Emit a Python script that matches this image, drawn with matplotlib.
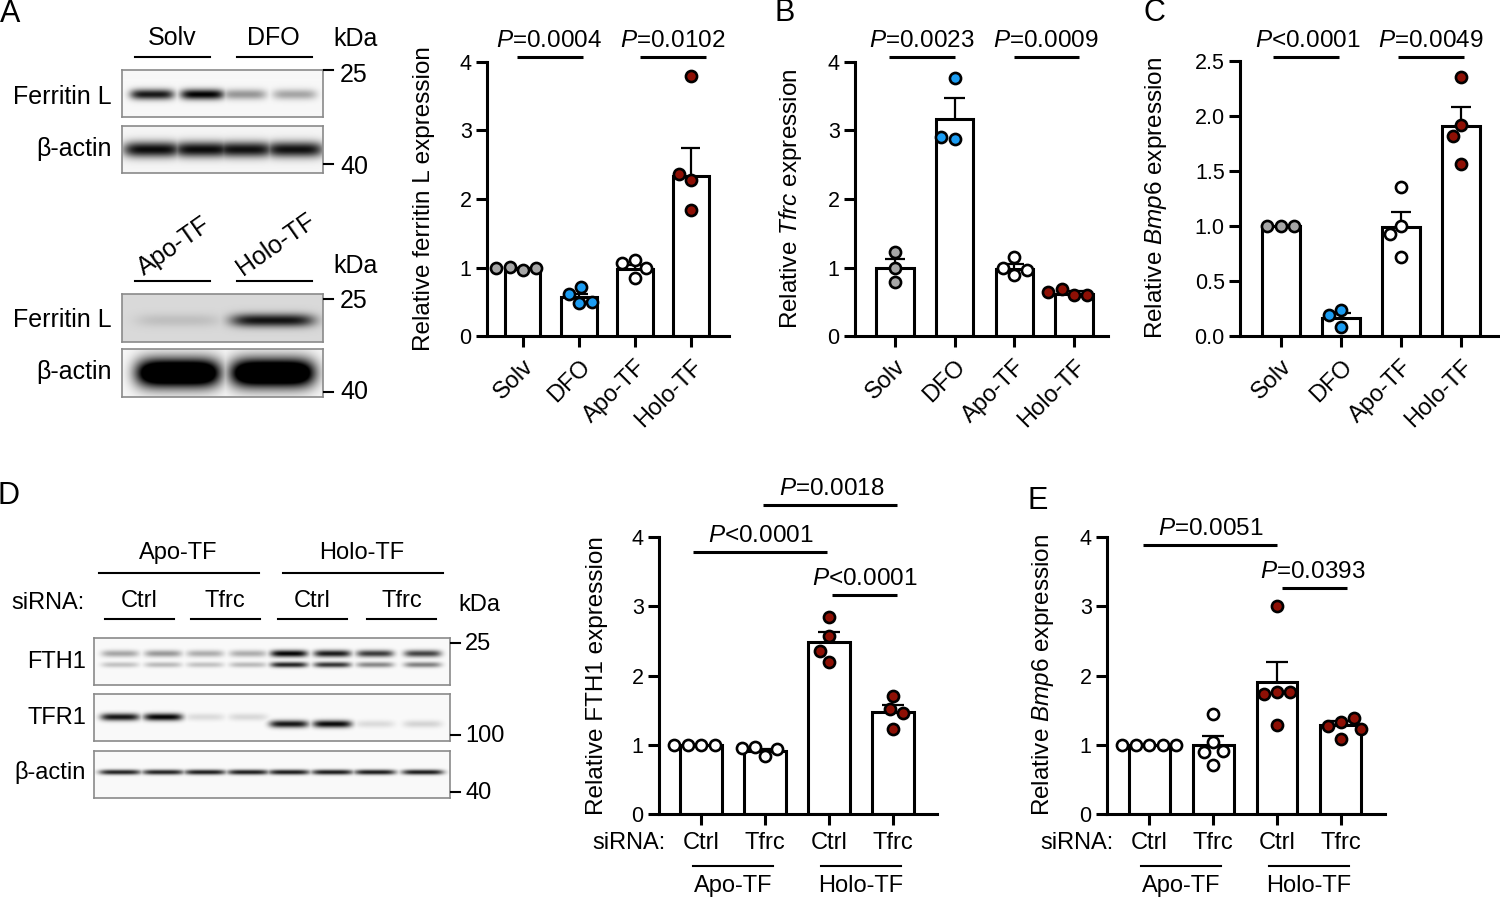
import numpy as np
import matplotlib
matplotlib.use("Agg")
import matplotlib.pyplot as plt
from matplotlib.transforms import offset_copy

plt.rcParams['font.family'] = ['Liberation Sans', 'DejaVu Sans']
plt.rcParams['mathtext.fontset'] = 'custom'
plt.rcParams['mathtext.it'] = 'Liberation Sans:italic'
plt.rcParams['mathtext.rm'] = 'Liberation Sans'

W, H = 1500, 901
fig = plt.figure(figsize=(W / 100, H / 100), dpi=100)

GRAY, BLUE, RED, WHITE = '#A6A6A6', '#1B9CF2', '#8E1005', '#FFFFFF'

# ---------------- data ----------------
cats_top = ['Solv', 'DFO', 'Apo-TF', 'Holo-TF']
top_colors = [GRAY, BLUE, WHITE, RED]

ferritin_mean = [0.98, 0.57, 0.98, 2.34]
ferritin_sem = [0.02, 0.05, 0.05, 0.41]
ferritin_pts = [[0.97, 1.01, 0.99, 0.99], [0.48, 0.62, 0.71, 0.50],
                [1.11, 0.84, 1.06, 1.00], [2.28, 3.79, 1.84, 2.37]]
# (line start, line end, line height, text centre, text)
ferritin_p = [(-0.11, 1.07, 4.07, 0.46, '$P$=0.0004'),
              (2.09, 3.27, 4.07, 2.68, '$P$=0.0102')]

tfrc_mean = [0.99, 3.17, 0.98, 0.62]
tfrc_sem = [0.13, 0.30, 0.07, 0.04]
tfrc_pts = [[1.22, 1.00, 0.79], [3.77, 2.88, 2.91],
            [0.89, 1.00, 1.16, 0.96], [0.60, 0.68, 0.60, 0.64]]
tfrc_p = [(-0.10, 1.00, 4.07, 0.44, '$P$=0.0023'),
          (2.00, 3.08, 4.07, 2.53, '$P$=0.0009')]

bmp6_top_mean = [1.00, 0.16, 0.99, 1.91]
bmp6_top_sem = [0.00, 0.05, 0.14, 0.17]
bmp6_top_pts = [[1.00, 1.00, 1.00], [0.24, 0.08, 0.19],
                [1.35, 1.00, 0.93, 0.72], [2.35, 1.92, 1.82, 1.56]]
bmp6_top_p = [(-0.13, 0.97, 2.54, 0.44, '$P$<0.0001'),
              (1.95, 3.05, 2.54, 2.50, '$P$=0.0049')]

sirna_labels = ['Ctrl', 'Tfrc', 'Ctrl', 'Tfrc']
treat_groups = ['Apo-TF', 'Holo-TF']
bottom_colors = [WHITE, WHITE, RED, RED]

fth1_mean = [1.00, 0.91, 2.48, 1.47]
fth1_sem = [0.00, 0.03, 0.15, 0.10]
fth1_pts = [[1.00, 1.00, 1.00, 1.00], [0.84, 0.97, 0.94, 0.95],
            [2.84, 2.57, 2.20, 2.35], [1.71, 1.52, 1.46, 1.23]]
fth1_p = [(-0.125, 1.97, 3.78, 0.93, '$P$<0.0001'),
          (0.97, 3.06, 4.46, 2.04, '$P$=0.0018'),
          (2.05, 3.06, 3.16, 2.56, '$P$<0.0001')]

bmp6_bot_mean = [1.00, 1.00, 1.91, 1.29]
bmp6_bot_sem = [0.00, 0.12, 0.29, 0.05]
bmp6_bot_pts = [[1.00, 1.00, 1.00, 1.00, 1.00], [1.45, 1.04, 0.89, 0.91, 0.71],
                [3.00, 1.76, 1.73, 1.76, 1.28], [1.33, 1.27, 1.39, 1.08, 1.23]]
bmp6_bot_p = [(-0.09, 2.00, 3.88, 0.97, '$P$=0.0051'),
              (2.08, 3.09, 3.26, 2.56, '$P$=0.0393')]

# blot band intensities (0 = none, 1 = black)
blotA_ferritin = [0.88, 0.97, 0.38, 0.32]
blotA_actin = [0.92, 0.92, 0.90, 0.90]
blotA2_ferritin = [0.10, 0.78]
blotA2_actin = [1.0, 1.0]
blotD_fth1_upper = [0.33, 0.38, 0.30, 0.30, 0.97, 0.88, 0.75, 0.72]
blotD_fth1_lower = [0.22, 0.25, 0.22, 0.25, 0.85, 0.78, 0.45, 0.48]
blotD_tfr1 = [0.90, 0.97, 0.12, 0.13, 0.90, 0.95, 0.12, 0.15]
blotD_actin = [0.85, 0.85, 0.87, 0.87, 0.88, 0.88, 0.88, 0.88]


# ---------------- helpers ----------------
def fig_text(x, y, s, **kw):
    return fig.text(x / W, 1 - y / H, s, **kw)


def fig_line(x0, x1, y, lw=1.5, color='black'):
    fig.add_artist(plt.Line2D([x0 / W, x1 / W], [1 - y / H, 1 - y / H],
                              color=color, lw=lw, transform=fig.transFigure))


def px_axes(left, right, top, bottom):
    return fig.add_axes([left / W, 1 - bottom / H, (right - left) / W,
                         (bottom - top) / H])


def swarm(vals, ax, diam):
    p0 = ax.transData.transform((0, 0))
    p1 = ax.transData.transform((1, 1))
    sx, sy = p1 - p0
    placed, offs = [], []
    for v in vals:
        y = v * sy
        cands = [0.0]
        for xo, yo in placed:
            dy = y - yo
            if abs(dy) < diam:
                dx = np.sqrt(diam ** 2 - dy ** 2)
                cands += [xo - dx, xo + dx]
        cands.sort(key=lambda c: round(abs(c), 6))
        chosen = cands[-1]
        for c in cands:
            if all((c - xo) ** 2 + (y - yo) ** 2 >= diam ** 2 - 1e-6
                   for xo, yo in placed):
                chosen = c
                break
        placed.append((chosen, y))
        offs.append(chosen / sx)
    return offs


def bar_panel(ax, means, sems, pts, colors, xlim, ylim, yticks, yticklabels,
              barw, pvals):
    x = np.arange(len(means))
    ax.set_xlim(*xlim)
    ax.set_ylim(*ylim)
    ax.bar(x, means, width=barw, color='white', edgecolor='black',
           linewidth=2.2, zorder=2)
    capw = barw * 0.27
    for xi, m, s in zip(x, means, sems):
        if s > 0:
            ax.plot([xi, xi], [m, m + s], color='black', lw=1.6, zorder=3,
                    solid_capstyle='butt')
            ax.plot([xi - capw, xi + capw], [m + s, m + s], color='black',
                    lw=1.6, zorder=3, solid_capstyle='butt')
    for xi, vals, c in zip(x, pts, colors):
        offs = swarm(vals, ax, 13.5)
        ax.scatter(xi + np.array(offs), vals, s=8.0 ** 2, facecolor=c,
                   edgecolor='black', linewidth=1.9, zorder=4, clip_on=False)
    for sp in ['top', 'right']:
        ax.spines[sp].set_visible(False)
    for sp in ['left', 'bottom']:
        ax.spines[sp].set_linewidth(2.2)
    ax.tick_params(axis='both', length=8, width=2.2, direction='out')
    ax.set_yticks(yticks)
    ax.set_yticklabels(yticklabels, fontsize=15.5)
    ax.tick_params(axis='y', pad=3)
    ax.set_xticks(x)
    ax.patch.set_alpha(0)
    toff = offset_copy(ax.transData, fig=fig, x=0, y=10, units='dots')
    for x0, x1, yv, xt, s in pvals:
        ax.plot([x0, x1], [yv, yv], color='black', lw=2.2,
                clip_on=False, solid_capstyle='butt')
        ax.text(xt, yv, s, transform=toff, ha='center',
                va='baseline', fontsize=17.5, clip_on=False)


def blot(left, right, top, bottom, bands, bg=0.0, edge='#8a8a8a'):
    ax = px_axes(left, right, top, bottom)
    w, h = int(right - left), int(bottom - top)
    xs = np.linspace(0, 1, w * 2)[None, :]
    ys = np.linspace(0, 1, h * 2)[:, None]
    img = np.zeros((h * 2, w * 2))
    for xc, wd, yc, th, inten in bands:
        prof_x = np.exp(-np.abs((xs - xc) / (wd / 2)) ** 5)
        prof_y = np.exp(-((ys - yc) / th) ** 2)
        img = np.maximum(img, inten * prof_x * prof_y)
    img = np.clip(img + bg, 0, 1)
    ax.imshow(img, cmap='gray_r', vmin=0, vmax=1, aspect='auto',
              extent=(0, 1, 1, 0), interpolation='bilinear')
    ax.set_xticks([])
    ax.set_yticks([])
    for sp in ax.spines.values():
        sp.set_color(edge)
        sp.set_linewidth(1.2)
    return ax


# ---------------- Panel A blots ----------------
laneA = [0.15, 0.40, 0.61, 0.86]
blot(122, 323, 70, 117,
     [(lx, 0.22, 0.53, 0.11, v) for lx, v in zip(laneA, blotA_ferritin)],
     bg=0.03)
blot(122, 323, 126, 173,
     [(lx, 0.29, 0.50, 0.17, v) for lx, v in zip(laneA, blotA_actin)],
     bg=0.04)
laneA2 = [0.28, 0.75]
blot(122, 323, 294, 342,
     [(lx, 0.42, 0.55, 0.14, v) for lx, v in zip(laneA2, blotA2_ferritin)],
     bg=0.15)
blot(122, 323, 349, 397,
     [(lx, 0.42, 0.50, 0.30, v * 1.6) for lx, v in zip(laneA2, blotA2_actin)],
     bg=0.03)

fs_blot = 18
fig_text(172, 38, 'Solv', ha='center', va='center', fontsize=fs_blot)
fig_text(273, 38, 'DFO', ha='center', va='center', fontsize=fs_blot)
fig_text(356, 39, 'kDa', ha='center', va='center', fontsize=fs_blot)
fig_line(135, 210, 57)
fig_line(237, 312, 57)
fig_line(324, 333, 70)
fig_line(324, 333, 164)
fig_text(340, 75, '25', ha='left', va='center', fontsize=fs_blot)
fig_text(340, 167, '40', ha='left', va='center', fontsize=fs_blot)
fig_text(112, 97, 'Ferritin L', ha='right', va='center', fontsize=fs_blot)
fig_text(112, 149, 'β-actin', ha='right', va='center', fontsize=fs_blot)

fig_text(174, 246, 'Apo-TF', ha='center', va='center', fontsize=fs_blot,
         rotation=35, rotation_mode='anchor')
fig_text(276, 244, 'Holo-TF', ha='center', va='center', fontsize=fs_blot,
         rotation=35, rotation_mode='anchor')
fig_text(356, 266, 'kDa', ha='center', va='center', fontsize=fs_blot)
fig_line(135, 210, 281)
fig_line(237, 312, 281)
fig_line(324, 333, 299)
fig_line(324, 333, 392)
fig_text(340, 301, '25', ha='left', va='center', fontsize=fs_blot)
fig_text(340, 392, '40', ha='left', va='center', fontsize=fs_blot)
fig_text(112, 320, 'Ferritin L', ha='right', va='center', fontsize=fs_blot)
fig_text(112, 372, 'β-actin', ha='right', va='center', fontsize=fs_blot)

# ---------------- Panel D blots ----------------
laneD = [0.073, 0.194, 0.312, 0.433, 0.548, 0.67, 0.79, 0.924]
blot(94, 450, 638, 685,
     [(lx, 0.105, 0.33, 0.075, v) for lx, v in zip(laneD, blotD_fth1_upper)]
     + [(lx, 0.105, 0.57, 0.06, v) for lx, v in zip(laneD, blotD_fth1_lower)],
     bg=0.02)
blot(94, 450, 694, 741,
     [(lx, 0.11, 0.49 if i < 4 else 0.64, 0.08, v)
      for i, (lx, v) in enumerate(zip(laneD, blotD_tfr1))],
     bg=0.02)
blot(94, 450, 751, 798,
     [(lx, 0.118, 0.45, 0.055, v) for lx, v in zip(laneD, blotD_actin)],
     bg=0.02)

fs_d = 17
fig_text(178, 553, 'Apo-TF', ha='center', va='center', fontsize=fs_d)
fig_text(362, 553, 'Holo-TF', ha='center', va='center', fontsize=fs_d)
fig_line(99, 259, 573)
fig_line(283, 443, 573)
fig_text(85, 603, 'siRNA:', ha='right', va='center', fontsize=fs_d)
for cx, lab in zip([139, 225, 312, 402], sirna_labels):
    fig_text(cx, 601, lab, ha='center', va='center', fontsize=fs_d)
for a, b in [(105, 174), (191, 260), (278, 347), (367, 436)]:
    fig_line(a, b, 619)
fig_text(479, 605, 'kDa', ha='center', va='center', fontsize=fs_d)
for yy, lab in [(643, '25'), (735, '100'), (792, '40')]:
    fig_line(451, 460, yy)
    fig_text(465, yy + 1, lab, ha='left', va='center', fontsize=fs_d)
fig_text(86, 662, 'FTH1', ha='right', va='center', fontsize=fs_d)
fig_text(86, 718, 'TFR1', ha='right', va='center', fontsize=fs_d)
fig_text(86, 773, 'β-actin', ha='right', va='center', fontsize=fs_d)

# ---------------- bar panels ----------------
fs_ylab = 17.5

axA = px_axes(487, 729, 62, 336)
bar_panel(axA, ferritin_mean, ferritin_sem, ferritin_pts, top_colors,
          (-0.64, 3.68), (0, 4), [0, 1, 2, 3, 4], ['0', '1', '2', '3', '4'],
          0.63, ferritin_p)
fig_text(424, 199, 'Relative ferritin L expression', rotation=90,
         ha='center', va='center', fontsize=fs_ylab)

axB = px_axes(855, 1108, 62, 336)
bar_panel(axB, tfrc_mean, tfrc_sem, tfrc_pts, top_colors,
          (-0.67, 3.57), (0, 4), [0, 1, 2, 3, 4], ['0', '1', '2', '3', '4'],
          0.63, tfrc_p)
fig_text(791, 199, 'Relative $\\mathit{Tfrc}$ expression', rotation=90,
         ha='center', va='center', fontsize=fs_ylab)

axC = px_axes(1240, 1500, 61, 336)
bar_panel(axC, bmp6_top_mean, bmp6_top_sem, bmp6_top_pts, top_colors,
          (-0.68, 3.65), (0, 2.5), [0, 0.5, 1.0, 1.5, 2.0, 2.5],
          ['0.0', '0.5', '1.0', '1.5', '2.0', '2.5'], 0.63, bmp6_top_p)
fig_text(1156, 198, 'Relative $\\mathit{Bmp6}$ expression', rotation=90,
         ha='center', va='center', fontsize=fs_ylab)

for ax in (axA, axB, axC):
    ax.set_xticklabels(cats_top, rotation=45, ha='right', va='top',
                       rotation_mode='anchor', fontsize=17)
    ax.tick_params(axis='x', pad=6)

axD = px_axes(659, 937, 537, 814)
bar_panel(axD, fth1_mean, fth1_sem, fth1_pts, bottom_colors,
          (-0.66, 3.69), (0, 4), [0, 1, 2, 3, 4], ['0', '1', '2', '3', '4'],
          0.65, fth1_p)
fig_text(597, 676, 'Relative FTH1 expression', rotation=90,
         ha='center', va='center', fontsize=fs_ylab)

axE = px_axes(1107, 1385, 537, 814)
bar_panel(axE, bmp6_bot_mean, bmp6_bot_sem, bmp6_bot_pts, bottom_colors,
          (-0.66, 3.69), (0, 4), [0, 1, 2, 3, 4], ['0', '1', '2', '3', '4'],
          0.64, bmp6_bot_p)
fig_text(1043, 675, 'Relative $\\mathit{Bmp6}$ expression', rotation=90,
         ha='center', va='center', fontsize=fs_ylab)

for ax in (axD, axE):
    ax.set_xticklabels(sirna_labels, fontsize=17)
    ax.tick_params(axis='x', pad=5)
    ax.text(-0.56, -0.42, 'siRNA:', ha='right', va='center', fontsize=17,
            clip_on=False)
    for g, name in enumerate(treat_groups):
        mid = 2 * g + 0.5
        ax.plot([mid - 0.63, mid + 0.63], [-0.75, -0.75], color='black',
                lw=1.5, clip_on=False)
        ax.text(mid, -1.04, name, ha='center', va='center', fontsize=17,
                clip_on=False)

# ---------------- panel letters ----------------
for x, y, s in [(10, 14, 'A'), (785, 13, 'B'), (1154, 13, 'C'),
                (9, 496, 'D'), (1038, 501, 'E')]:
    fig_text(x, y, s, ha='center', va='center', fontsize=22)

fig.savefig('out.png', dpi=100)
